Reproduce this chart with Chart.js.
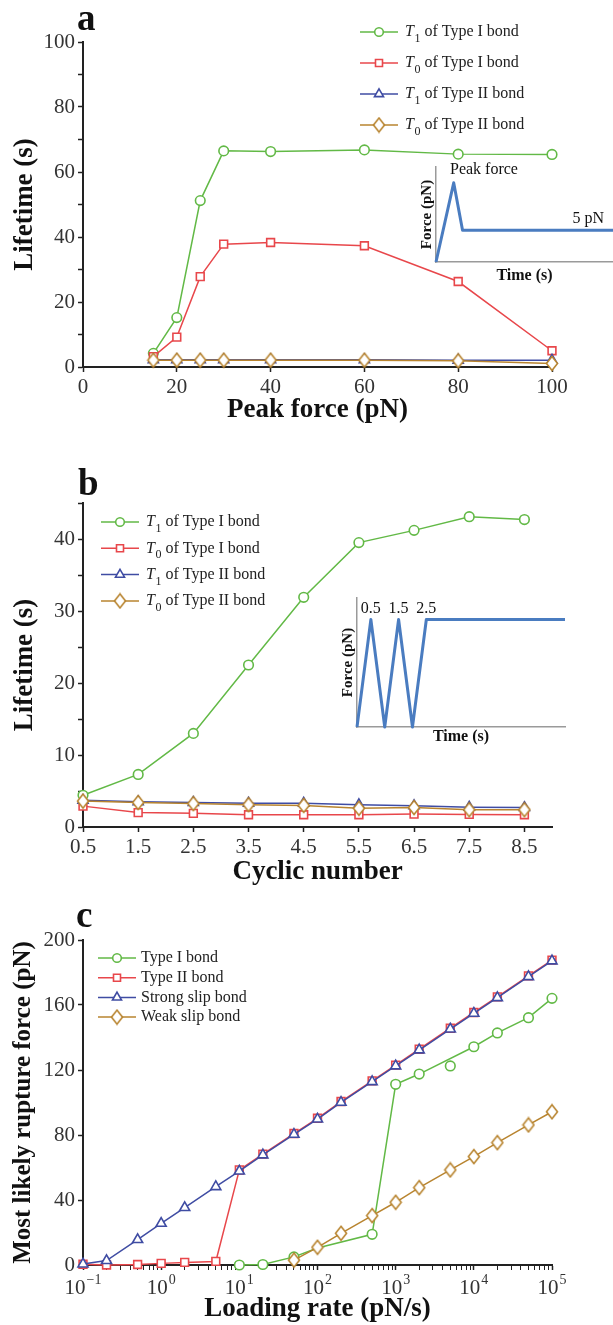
<!DOCTYPE html>
<html>
<head>
<meta charset="utf-8">
<script src="https://cdn.jsdelivr.net/npm/chart.js@4.4.1/dist/chart.umd.min.js"></script>
<style>
  html, body { margin: 0; padding: 0; background: #fff; }
  #page { position: relative; width: 613px; height: 1325px; overflow: hidden; }
  canvas { position: absolute; }
</style>
</head>
<body>
<div id="page">
  <canvas id="chartA" style="left:0;top:0" width="613" height="440"></canvas>
  <canvas id="chartB" style="left:0;top:440px" width="613" height="450"></canvas>
  <canvas id="chartC" style="left:0;top:890px" width="613" height="435"></canvas>
  <canvas id="insetA" style="left:415px;top:155px" width="198" height="135"></canvas>
  <canvas id="insetB" style="left:335px;top:585px" width="235" height="165"></canvas>
</div>
<script>
// panel a: lifetime vs peak force
const peakForce = [15, 20, 25, 30, 40, 60, 80, 100];
const aT1TypeI = [4.2, 15.2, 51.2, 66.5, 66.3, 66.8, 65.5, 65.4];
const aT0TypeI = [3.2, 9.2, 27.8, 37.8, 38.3, 37.3, 26.3, 5.0];
const aT1TypeII = [2.2, 2.2, 2.2, 2.2, 2.2, 2.2, 2.1, 2.1];
const aT0TypeII = [2.1, 2.1, 2.1, 2.1, 2.1, 2.1, 1.9, 1.1];

// panel b: lifetime vs cyclic number
const cycles = [0.5, 1.5, 2.5, 3.5, 4.5, 5.5, 6.5, 7.5, 8.5];
const bT1TypeI = [4.4, 7.3, 13.0, 22.5, 31.9, 39.5, 41.2, 43.1, 42.7];
const bT0TypeI = [2.9, 2.0, 1.9, 1.7, 1.7, 1.7, 1.8, 1.75, 1.7];
const bT1TypeII = [3.7, 3.5, 3.4, 3.3, 3.3, 3.1, 2.95, 2.75, 2.7];
const bT0TypeII = [3.6, 3.4, 3.25, 3.1, 3.0, 2.6, 2.7, 2.4, 2.4];

// panel c: most likely rupture force vs loading rate
const loadingRate = [0.1, 0.2, 0.5, 1, 2, 5, 10, 20, 50, 100, 200, 500, 1000, 2000, 5000, 10000, 20000, 50000, 100000];
const cStrongSlip = [0.6, 2.7, 15.6, 25.6, 35.3, 48.2, 57.8, 67.7, 80.4, 89.8, 100.1, 112.8, 122.5, 132.3, 145.2, 154.9, 164.5, 177.4, 187.1];
const cTypeII = [0.5, 0, 0.3, 1.0, 1.6, 2.2, 58.5, 68.2, 80.9, 90.3, 100.6, 113.3, 123.0, 132.8, 145.7, 155.4, 165.0, 177.9, 187.6];
const typeIRate = [10, 20, 50, 500, 1000, 2000, 5000, 10000, 20000, 50000, 100000];
const cTypeI = [0, 0.3, 5.0, 18.9, 111.2, 117.5, 122.5, 134.3, 142.8, 152.2, 164.1];
const typeILineRate = [10, 20, 50, 100, 500, 1000, 2000, 10000, 20000, 50000, 100000];
const cTypeILine = [0, 0.3, 5.0, 10.5, 18.9, 111.2, 117.5, 134.3, 142.8, 152.2, 164.1];
const weakRate = [50, 100, 200, 500, 1000, 2000, 5000, 10000, 20000, 50000, 100000];
const cWeakSlip = [3.0, 10.9, 19.5, 30.4, 38.6, 47.6, 58.5, 66.7, 75.3, 86.2, 94.3];

// tick labels
const cycleTicks = [0.5, 1.5, 2.5, 3.5, 4.5, 5.5, 6.5, 7.5, 8.5];
const decadeExps = [-1, 0, 1, 2, 3, 4, 5];

// inset force profiles (schematic)
const insetATime = [0, 1, 1.5, 10];
const insetAForce = [0, 12.5, 5, 5];
const insetBTime = [0, 1, 2, 3, 4, 5, 15];
const insetBForce = [0, 5, 0, 5, 0, 5, 5];
const insetBPeakTimes = [1, 3, 5];
const insetBPeakLabels = ["0.5", "1.5", "2.5"];

const FONT = "'Liberation Serif', 'Times New Roman', serif";
const AXIS = "#222";
const TICK = "#333";
const GREEN = "#62b946";
const RED = "#e8474b";
const BLUE = "#3f4ca3";
const ORANGE = "#b8842f";
const INSET_BLUE = "#4a7cc0";

Chart.defaults.font.family = FONT;
Chart.defaults.animation = false;

function diamondImage(color) {
  const c = document.createElement("canvas");
  c.width = 14;
  c.height = 17;
  const g = c.getContext("2d");
  g.beginPath();
  g.moveTo(7, 1.5);
  g.lineTo(12.5, 8.5);
  g.lineTo(7, 15.5);
  g.lineTo(1.5, 8.5);
  g.closePath();
  g.fillStyle = "#fff";
  g.fill();
  g.lineWidth = 1.6;
  g.strokeStyle = color;
  g.stroke();
  return c;
}
const DIAMOND = diamondImage(ORANGE);

function series(label, xs, ys, color, style, radius, order, extra) {
  return Object.assign(
    {
      label: label,
      data: xs.map((x, i) => ({ x: x, y: ys[i] })),
      borderColor: color,
      backgroundColor: "#fff",
      borderWidth: 1.5,
      pointStyle: style,
      pointRadius: radius,
      pointBorderColor: color,
      pointBackgroundColor: "#fff",
      pointBorderWidth: 1.6,
      tension: 0,
      order: order,
      clip: false,
    },
    extra || {}
  );
}

function fourSeries(xs, t1I, t0I, t1II, t0II) {
  return [
    series("T1 of Type I bond", xs, t1I, GREEN, "circle", 4.8, 4),
    series("T0 of Type I bond", xs, t0I, RED, "rect", 5.5, 3),
    series("T1 of Type II bond", xs, t1II, BLUE, "triangle", 5.8, 2),
    series("T0 of Type II bond", xs, t0II, ORANGE, DIAMOND, 6, 1),
  ];
}

// panel letter + legend with line-through markers and subscripts
const panelDecor = {
  id: "panelDecor",
  afterDraw(chart, args, opts) {
    const ctx = chart.ctx;
    ctx.save();
    ctx.fillStyle = "#111";
    ctx.font = "bold 37px " + FONT;
    ctx.textAlign = "left";
    ctx.textBaseline = "alphabetic";
    ctx.fillText(opts.letter, opts.letterX, opts.letterY);

    const lg = opts.legend;
    let row = 0;
    chart.data.datasets.forEach((ds) => {
      if (ds.inLegend === false) return;
      const y = lg.y + row * lg.gap;
      row++;
      ctx.strokeStyle = ds.borderColor;
      ctx.lineWidth = 1.5;
      ctx.beginPath();
      ctx.moveTo(lg.x0, y);
      ctx.lineTo(lg.x1, y);
      ctx.stroke();
      ctx.fillStyle = "#fff";
      ctx.lineWidth = 1.6;
      Chart.helpers.drawPoint(
        ctx,
        { pointStyle: ds.pointStyle, radius: ds.pointRadius * 0.9, borderWidth: 1.6, rotation: 0 },
        (lg.x0 + lg.x1) / 2,
        y
      );
      ctx.fillStyle = "#222";
      ctx.textBaseline = "middle";
      let x = lg.textX;
      if (opts.subscripted) {
        ctx.font = "italic 16px " + FONT;
        ctx.fillText(ds.label[0], x, y);
        x += ctx.measureText(ds.label[0]).width + 0.5;
        ctx.font = "12px " + FONT;
        ctx.fillText(ds.label[1], x, y + 7);
        x += ctx.measureText(ds.label[1]).width;
        ctx.font = "16px " + FONT;
        ctx.fillText(ds.label.slice(2), x, y);
      } else {
        ctx.font = "16px " + FONT;
        ctx.fillText(ds.label, x, y);
      }
    });
    ctx.restore();
  },
};

// 10^n labels for the log axis
const powerLabels = {
  id: "powerLabels",
  afterDraw(chart, args, opts) {
    if (!opts.exps) return;
    const ctx = chart.ctx;
    const xs = chart.scales.x;
    const base = xs.top;
    ctx.save();
    ctx.fillStyle = TICK;
    ctx.textBaseline = "middle";
    ctx.textAlign = "left";
    opts.exps.forEach((e) => {
      const px = xs.getPixelForValue(Math.pow(10, e));
      const sup = e < 0 ? "\u2212" + -e : String(e);
      ctx.font = "21px " + FONT;
      const wb = ctx.measureText("10").width;
      ctx.font = "14px " + FONT;
      const we = ctx.measureText(sup).width;
      const left = px - (wb + we + 1) / 2;
      ctx.font = "21px " + FONT;
      ctx.fillText("10", left, base + 23);
      ctx.font = "14px " + FONT;
      ctx.fillText(sup, left + wb + 1, base + 15);
    });
    ctx.restore();
  },
};

const insetText = {
  id: "insetText",
  afterDraw(chart, args, opts) {
    const ctx = chart.ctx;
    const { x, y } = chart.scales;
    ctx.save();
    ctx.font = "16px " + FONT;
    ctx.fillStyle = "#111";
    ctx.textBaseline = "middle";
    opts.labels.forEach((l) => {
      ctx.textAlign = l.align;
      ctx.fillText(l.text, x.getPixelForValue(l.t), y.getPixelForValue(l.f) + (l.dy || 0));
    });
    ctx.restore();
  },
};

function titleOpt(text, size, padding) {
  return {
    display: true,
    text: text,
    color: "#111",
    font: { family: FONT, size: size, weight: "bold" },
    padding: padding,
  };
}

function gridOpt() {
  return {
    display: true,
    drawOnChartArea: false,
    drawTicks: true,
    tickLength: 5,
    tickColor: AXIS,
    tickWidth: (c) => (c.tick && c.tick.major === false ? 1 : 1.5),
  };
}

function tickOpt(extra) {
  return Object.assign(
    { color: TICK, font: { family: FONT, size: 21 }, padding: 3, maxRotation: 0, autoSkip: false },
    extra || {}
  );
}

function mainOptions(cfg) {
  return {
    responsive: false,
    animation: false,
    events: [],
    layout: { padding: { top: cfg.top, right: 61, left: 0, bottom: 0 } },
    plugins: {
      legend: { display: false },
      tooltip: { enabled: false },
      panelDecor: cfg.decor,
      powerLabels: { exps: cfg.exps || null },
    },
    scales: { x: cfg.x, y: cfg.y },
  };
}

// ---------- panel a ----------
new Chart(document.getElementById("chartA"), {
  type: "line",
  data: { datasets: fourSeries(peakForce, aT1TypeI, aT0TypeI, aT1TypeII, aT0TypeII) },
  options: mainOptions({
    top: 42,
    decor: {
      letter: "a", letterX: 77, letterY: 30, subscripted: true,
      legend: { x0: 360, x1: 398, textX: 405, y: 32, gap: 31 },
    },
    x: {
      type: "linear", min: 0, max: 100,
      border: { display: true, color: AXIS, width: 2 },
      grid: gridOpt(),
      ticks: tickOpt({ stepSize: 20 }),
      title: titleOpt("Peak force (pN)", 27, { top: 0, bottom: 14 }),
      afterFit: (s) => { s.height = 73; },
    },
    y: {
      type: "linear", min: 0, max: 100,
      border: { display: true, color: AXIS, width: 2 },
      grid: gridOpt(),
      ticks: tickOpt({ stepSize: 10, callback: (v) => (v % 20 === 0 ? v : "") }),
      title: titleOpt("Lifetime (s)", 27, { top: 9, bottom: 0 }),
      afterFit: (s) => { s.width = 83; },
    },
  }),
  plugins: [panelDecor],
});

// ---------- panel b ----------
new Chart(document.getElementById("chartB"), {
  type: "line",
  data: { datasets: fourSeries(cycles, bT1TypeI, bT0TypeI, bT1TypeII, bT0TypeII) },
  options: mainOptions({
    top: 63,
    decor: {
      letter: "b", letterX: 78, letterY: 55, subscripted: true,
      legend: { x0: 101, x1: 139, textX: 146, y: 82, gap: 26.3 },
    },
    x: {
      type: "linear", min: 0.5, max: 9,
      border: { display: true, color: AXIS, width: 2 },
      grid: gridOpt(),
      ticks: tickOpt({ callback: (v) => v.toFixed(1) }),
      afterBuildTicks: (s) => { s.ticks = cycleTicks.map((v) => ({ value: v })); },
      title: titleOpt("Cyclic number", 27, { top: 0, bottom: 2 }),
      afterFit: (s) => { s.height = 63; },
    },
    y: {
      type: "linear", min: 0, max: 45,
      border: { display: true, color: AXIS, width: 2 },
      grid: gridOpt(),
      ticks: tickOpt({ stepSize: 5, callback: (v) => (v % 10 === 0 ? v : "") }),
      title: titleOpt("Lifetime (s)", 27, { top: 9, bottom: 0 }),
      afterFit: (s) => { s.width = 83; },
    },
  }),
  plugins: [panelDecor],
});

// ---------- panel c ----------
const cDatasets = [
  series("Type I bond", typeIRate, cTypeI, GREEN, "circle", 4.8, 4, { showLine: false }),
  series("Type II bond", loadingRate, cTypeII, RED, "rect", 5.5, 3),
  series("Strong slip bond", loadingRate, cStrongSlip, BLUE, "triangle", 5.8, 2),
  series("Weak slip bond", weakRate, cWeakSlip, ORANGE, DIAMOND, 6, 1),
  series("Type I bond fit", typeILineRate, cTypeILine, GREEN, "circle", 0, 5, { inLegend: false }),
];

new Chart(document.getElementById("chartC"), {
  type: "line",
  data: { datasets: cDatasets },
  options: mainOptions({
    top: 50,
    exps: decadeExps,
    decor: {
      letter: "c", letterX: 76, letterY: 37, subscripted: false,
      legend: { x0: 98, x1: 136, textX: 141, y: 68, gap: 19.7 },
    },
    x: {
      type: "logarithmic", min: 0.1, max: 100000,
      border: { display: true, color: AXIS, width: 2 },
      grid: gridOpt(),
      ticks: { display: false },
      afterBuildTicks: (s) => {
        const t = [];
        decadeExps.forEach((e, i) => {
          const p = Math.pow(10, e);
          t.push({ value: p, major: true });
          if (i < decadeExps.length - 1) {
            for (let m = 2; m <= 9; m++) t.push({ value: m * p, major: false });
          }
        });
        s.ticks = t;
      },
      title: titleOpt("Loading rate (pN/s)", 27, { top: 0, bottom: 0 }),
      afterFit: (s) => { s.height = 60; },
    },
    y: {
      type: "linear", min: 0, max: 200,
      border: { display: true, color: AXIS, width: 2 },
      grid: gridOpt(),
      ticks: tickOpt({ stepSize: 40 }),
      title: titleOpt("Most likely rupture force (pN)", 25, { top: 9, bottom: 0 }),
      afterFit: (s) => { s.width = 83; },
    },
  }),
  plugins: [panelDecor, powerLabels],
});

// ---------- insets ----------
function insetChart(id, times, forces, tMax, fMax, pad, yWidth, xHeight, yPad, xPad, labels) {
  return new Chart(document.getElementById(id), {
    type: "line",
    data: {
      datasets: [
        {
          data: times.map((t, i) => ({ x: t, y: forces[i] })),
          borderColor: INSET_BLUE,
          borderWidth: 3,
          borderJoinStyle: "round",
          pointRadius: 0,
          tension: 0,
          clip: false,
        },
      ],
    },
    options: {
      responsive: false,
      animation: false,
      events: [],
      layout: { padding: pad },
      plugins: { legend: { display: false }, tooltip: { enabled: false }, insetText: { labels: labels } },
      scales: {
        x: {
          type: "linear", min: 0, max: tMax,
          border: { display: true, color: "#9a9a9a", width: 1.5 },
          grid: { display: false },
          ticks: { display: false },
          title: titleOpt("Time (s)", 16, { top: 0, bottom: xPad }),
          afterFit: (s) => { s.height = xHeight; },
        },
        y: {
          type: "linear", min: 0, max: fMax,
          border: { display: true, color: "#9a9a9a", width: 1.5 },
          grid: { display: false },
          ticks: { display: false },
          title: titleOpt("Force (pN)", 15, { top: yPad, bottom: 0 }),
          afterFit: (s) => { s.width = yWidth; },
        },
      },
    },
    plugins: [insetText],
  });
}

insetChart("insetA", insetATime, insetAForce, 10, 15,
  { top: 12, right: 0, left: 0, bottom: 0 }, 21, 28, 3, 5,
  [
    { text: "Peak force", t: 0.79, f: 14.5, align: "left" },
    { text: "5 pN", t: 9.5, f: 6.8, align: "right" },
  ]);

insetChart("insetB", insetBTime, insetBForce, 15, 6,
  { top: 13, right: 5, left: 0, bottom: 0 }, 22, 23, 4, 4,
  insetBPeakTimes.map((t, i) => ({ text: insetBPeakLabels[i], t: t, f: 5, dy: -11, align: "center" })));
</script>
</body>
</html>
